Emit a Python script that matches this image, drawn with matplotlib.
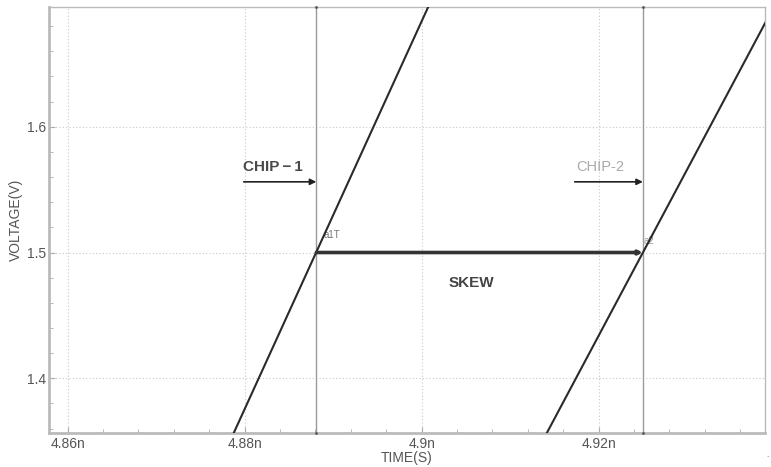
import matplotlib
matplotlib.use('Agg')
import matplotlib.pyplot as plt
from matplotlib.ticker import MultipleLocator, FuncFormatter

plt.rcParams['font.family'] = ['Liberation Sans', 'DejaVu Sans']

# waveform samples (time in ns, voltage in V)
chip1_t = [4.8777, 4.9017]
chip1_v = [1.34, 1.71]
chip2_t = [4.9129, 4.9409]
chip2_v = [1.34, 1.71]

# cursor positions at the 1.5 V crossing
cursor_t = [4.8881, 4.9250]
cursor_v = 1.5
cursor_names = ['a1T', 'a2']

xlim = (4.8579, 4.9388)
ylim = (1.3565, 1.6952)

fig = plt.figure(figsize=(7.71, 4.67), dpi=100)
ax = fig.add_axes([0.0636, 0.0728, 0.9286, 0.9122])

ax.plot(chip1_t, chip1_v, color='#2a2a2a', lw=1.5, zorder=4)
ax.plot(chip2_t, chip2_v, color='#2a2a2a', lw=1.5, zorder=4)

# cursors
for t in cursor_t:
    ax.axvline(t, color='#9a9a9a', lw=1.0, zorder=2)
    ax.plot([t, t], [ylim[1], ylim[0]], ls='none', marker='.', ms=2,
            color='#555555', clip_on=False, zorder=5)

ax.text(cursor_t[0] + 0.0008, cursor_v + 0.010, cursor_names[0], fontsize=7,
        color='#777777', ha='left', va='bottom')
ax.text(cursor_t[1] + 0.0001, cursor_v + 0.005, cursor_names[1], fontsize=7,
        color='#999999', ha='left', va='bottom')

# skew bar between the two crossings
ax.annotate('', xy=(cursor_t[1], cursor_v), xytext=(cursor_t[0], cursor_v),
            arrowprops=dict(arrowstyle='-|>', color='#333333', lw=2.6,
                            mutation_scale=5, shrinkA=0, shrinkB=0), zorder=5)
ax.text(4.90565, 1.4757, 'SKEW', fontsize=11, fontweight='bold',
        color='#444444', ha='center', va='center')

# chip labels with arrows pointing at the cursors
arrow_v = 1.5562
ax.annotate('', xy=(cursor_t[0], arrow_v), xytext=(4.8799, arrow_v),
            arrowprops=dict(arrowstyle='-|>', color='#222222', lw=1.2,
                            mutation_scale=9, shrinkA=0, shrinkB=0))
ax.annotate('', xy=(cursor_t[1], arrow_v), xytext=(4.9173, arrow_v),
            arrowprops=dict(arrowstyle='-|>', color='#222222', lw=1.2,
                            mutation_scale=9, shrinkA=0, shrinkB=0))
ax.text(4.8798, 1.5625, 'CHIP\u2009\u2212\u20091', fontsize=11, fontweight='bold',
        color='#4a4a4a', ha='left', va='bottom')
ax.text(4.9175, 1.5625, 'CHIP-2', fontsize=10.5, color='#aaaaaa',
        ha='left', va='bottom')

ax.set_xlim(*xlim)
ax.set_ylim(*ylim)

ax.xaxis.set_major_locator(MultipleLocator(0.02))
ax.xaxis.set_minor_locator(MultipleLocator(0.004))
ax.yaxis.set_major_locator(MultipleLocator(0.1))
ax.yaxis.set_minor_locator(MultipleLocator(0.02))
ax.xaxis.set_major_formatter(FuncFormatter(lambda x, p: f'{x:.3g}n'))
ax.yaxis.set_major_formatter(FuncFormatter(lambda y, p: f'{y:.1f}'))

ax.grid(True, which='major', color='#c8c8c8', ls=(0, (1, 2)), lw=0.8, zorder=1)
ax.tick_params(which='both', direction='in', color='#aaaaaa', labelcolor='#555555',
               labelsize=10, pad=2)
ax.tick_params(which='major', length=4)
ax.tick_params(which='minor', length=3)
ax.tick_params(axis='x', pad=3)

for s in ax.spines.values():
    s.set_color('#bbbbbb')
    s.set_linewidth(1.0)
ax.spines['left'].set_linewidth(2.0)
ax.spines['bottom'].set_linewidth(2.0)

ax.set_xlabel('TIME(S)', fontsize=10, color='#555555', labelpad=0)
ax.set_ylabel('VOLTAGE(V)', fontsize=10, color='#555555', labelpad=3)

fig.text(0.996, 0.025, '.', fontsize=6, color='#444444', ha='center', va='center')

fig.savefig('out.png', dpi=100)
